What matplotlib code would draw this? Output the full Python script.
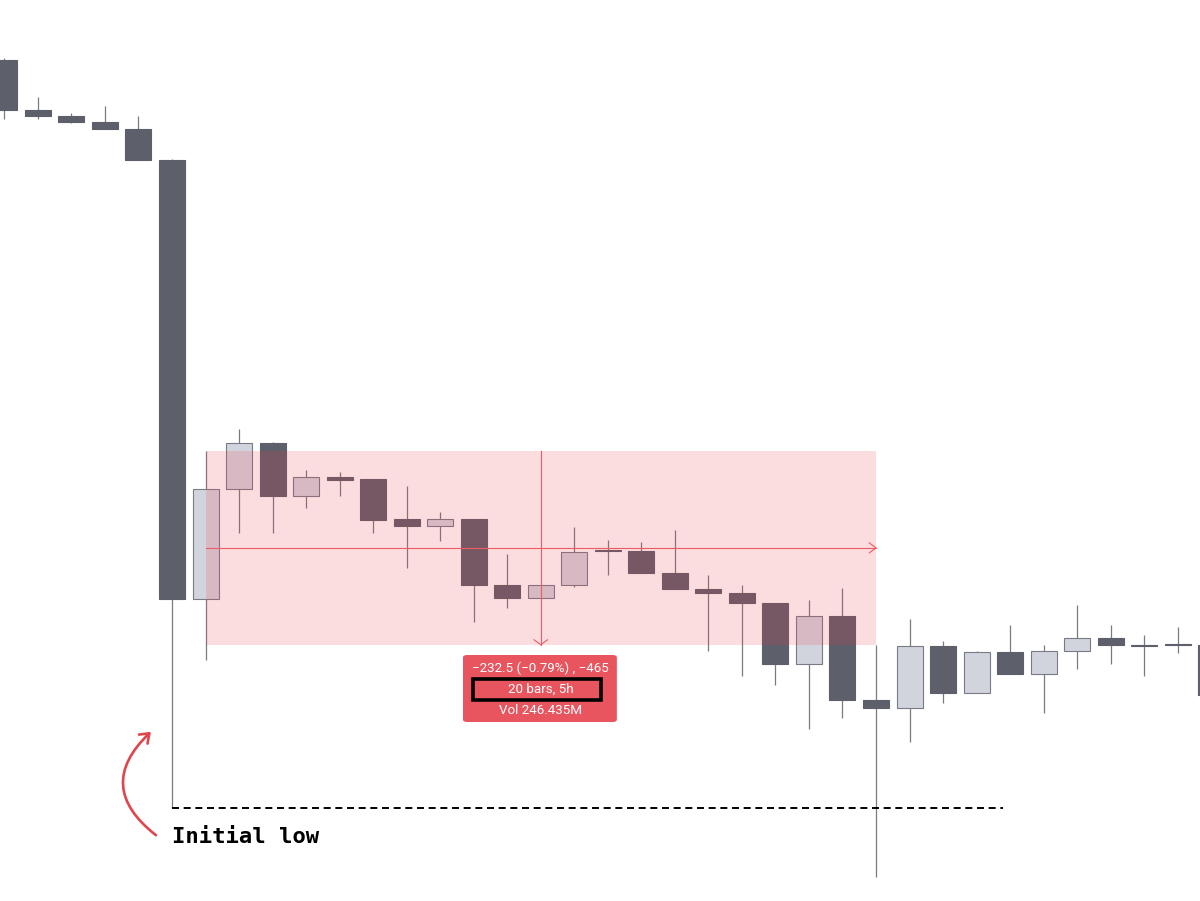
import matplotlib.pyplot as plt
from matplotlib.patches import Rectangle, FancyBboxPatch, FancyArrowPatch

# OHLC prices (one bar = 15 min)
opens = [29899, 29839, 29832, 29825, 29816.5, 29779, 29252.5, 29384.5, 29439.5, 29376,
         29399, 29396.5, 29348.5, 29340, 29348.5, 29269, 29253.5, 29269, 29310, 29310,
         29283.5, 29264.5, 29259.5, 29247.5, 29174.5, 29232, 29131, 29121.5, 29196, 29139.5,
         29189, 29162.5, 29190, 29205.5, 29196, 29197, 29197]
highs = [29901.5, 29855, 29835.5, 29844, 29832, 29780.5, 29430, 29456.5, 29441, 29407,
         29405, 29396.5, 29388, 29357, 29348.5, 29306.5, 29269, 29339, 29323, 29321,
         29335, 29281, 29269, 29247.5, 29251, 29265.5, 29197.5, 29228.5, 29202, 29190,
         29221, 29197, 29245, 29221, 29209, 29219, 29203]
lows = [29828.5, 29828.5, 29823.5, 29816.5, 29779, 29001.5, 29179, 29331.5, 29331.5, 29361.5,
        29376, 29331.5, 29289.5, 29322, 29225, 29241.5, 29253.5, 29267, 29281, 29283.5,
        29264.5, 29190, 29160, 29149, 29096.5, 29109.5, 28919, 29081, 29127.5, 29139.5,
        29162.5, 29115.5, 29168.5, 29174.5, 29160, 29187.5, 29131]
closes = [29839, 29832, 29825, 29816.5, 29779, 29252.5, 29384.5, 29439.5, 29376, 29399,
          29395, 29347, 29340, 29348.5, 29269, 29253.5, 29269, 29309, 29310, 29283.5,
          29264.5, 29259.5, 29247.5, 29174.5, 29232, 29131, 29121.5, 29196, 29139.5, 29189,
          29162.5, 29190, 29205.5, 29197, 29196, 29197, 29137]

# measurement tool: from high of bar 6 to high of bar 26
m_start, m_end = 6, 26
m_top, m_bottom = 29430, 29197.5
m_lines = ["\u2212232.5 (\u22120.79%) , \u2212465", "20 bars, 5h", "Vol 246.435M"]
initial_low = lows[5]

dark = '#5d606b'
light = '#d1d4dc'
edge = '#787b86'
red = '#f23645'

fig = plt.figure(figsize=(12, 9.01), dpi=100)
ax = fig.add_axes([0, 0, 1, 1])
ax.set_xlim(-0.1307, 35.665)
ax.set_ylim(28890, 29971.2)
ax.axis('off')

w = 0.776
for i in range(len(opens)):
    o, h, l, c = opens[i], highs[i], lows[i], closes[i]
    ax.vlines(i, l, h, color=edge, lw=0.9, zorder=1)
    if c > o:
        ax.add_patch(Rectangle((i - w / 2, o), w, c - o, facecolor=light, edgecolor=edge, lw=0.8, zorder=2))
    else:
        hgt = max(o - c, 1.2)
        ax.add_patch(Rectangle((i - w / 2, c), w, hgt, facecolor=dark, edgecolor=dark, lw=0.8, zorder=2))

# shaded range box
ax.add_patch(Rectangle((m_start, m_bottom), m_end - m_start, m_top - m_bottom,
                       facecolor=red, alpha=0.17, lw=0, zorder=3))
mid_y = (m_top + m_bottom) / 2
mid_x = (m_start + m_end) / 2
ax.plot([m_start, m_end], [mid_y, mid_y], color='#ef5a63', lw=0.8, zorder=4)
ax.plot([mid_x, mid_x], [m_top, m_bottom], color='#ef5a63', lw=0.8, zorder=4)
# chevrons
ax.plot([m_end - 0.2, m_end, m_end - 0.2], [mid_y + 6, mid_y, mid_y - 6], color='#ef5a63', lw=0.8, zorder=4)
ax.plot([mid_x - 0.2, mid_x, mid_x + 0.2], [m_bottom + 6, m_bottom, m_bottom + 6], color='#ef5a63', lw=0.8, zorder=4)

# info label
ax.add_patch(FancyBboxPatch((13.68, 29104.8), 4.59, 80.4, boxstyle='round,pad=0,rounding_size=0.12',
                            mutation_aspect=25, facecolor='#e8555f', edgecolor='none', zorder=5))
ax.add_patch(Rectangle((13.98, 29131.5), 3.82, 24.8, facecolor='none', edgecolor='black', lw=2.6, zorder=6))
for k, txt in enumerate(m_lines):
    ax.text(mid_x, 29169.6 - k * 25.2, txt, ha='center', va='center', color='white',
            fontsize=9.6, family='Roboto', zorder=7)

# initial low annotation
ax.plot([5, 29.79], [initial_low, initial_low], color='black', lw=1.4,
        linestyle=(0, (3.6, 2.4)), zorder=4)
ax.text(5.0, 28967, 'Initial low', ha='left', va='center', fontsize=16,
        family='DejaVu Sans Mono', fontweight='bold', color='black')
ax.add_patch(FancyArrowPatch((4.52, 28969), (4.37, 29093), connectionstyle='arc3,rad=-0.58',
                             arrowstyle='->,head_length=6,head_width=4.5', color='#e0454b',
                             lw=1.9, zorder=5, shrinkA=0, shrinkB=0))

plt.savefig('out.png', dpi=100)
